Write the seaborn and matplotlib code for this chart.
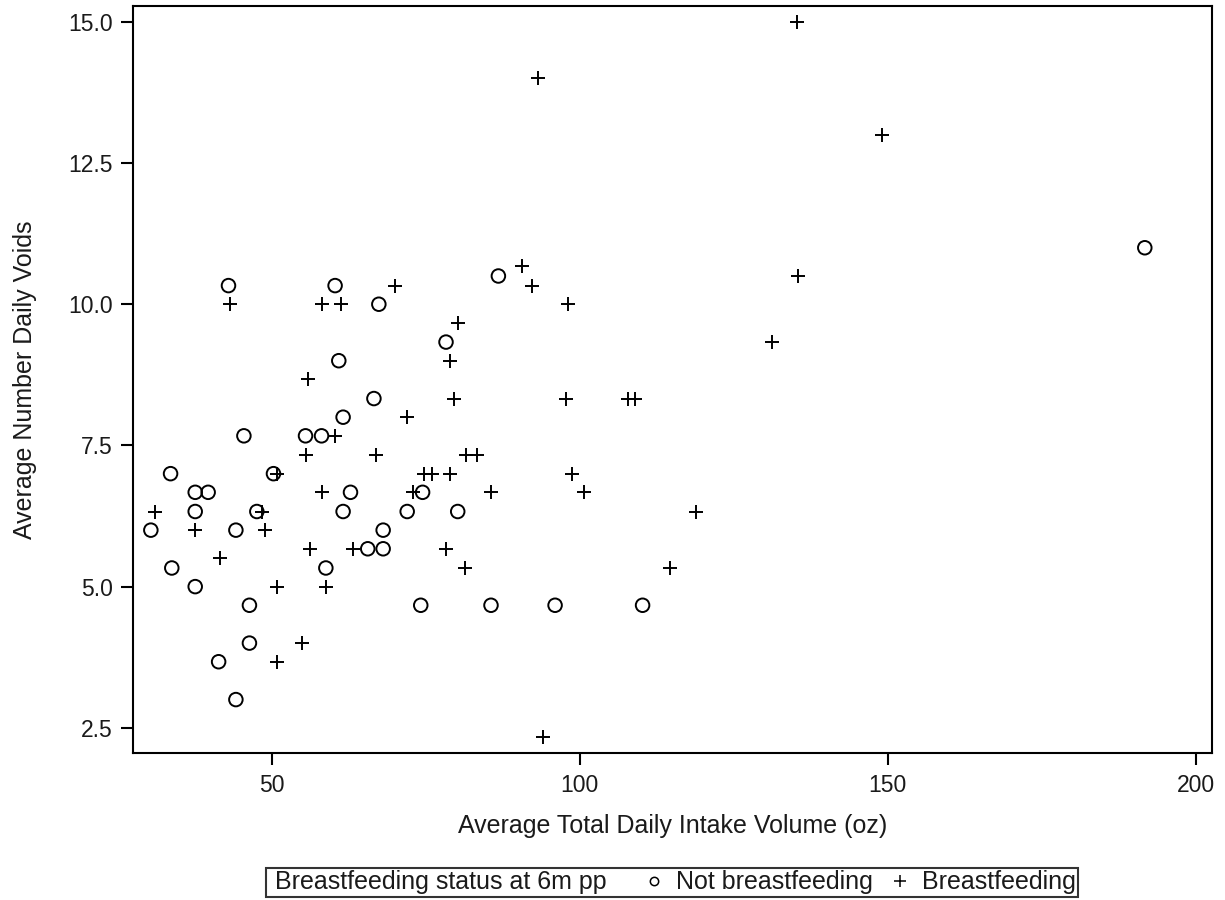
"""
plot.py
-------
Average daily voids vs average total daily intake volume,
split by breastfeeding status at 6 months postpartum.
"""

import pandas as pd
import matplotlib.pyplot as plt
import seaborn as sns
from matplotlib.lines import Line2D
from matplotlib.offsetbox import DrawingArea
from matplotlib.ticker import FormatStrFormatter

# ----------------- Data -----------------
not_bf_intake = [30.4, 33.6, 33.8, 37.6, 37.6, 37.6, 39.7, 43.0, 44.2, 45.5,
                 46.4, 46.4, 41.4, 44.2, 47.6, 50.3, 55.5, 58.1, 58.8, 60.3,
                 60.9, 61.6, 61.6, 62.8, 66.6, 67.4, 65.6, 68.1, 68.1, 72.0,
                 74.5, 74.2, 78.3, 80.2, 86.8, 85.6, 96.0, 110.2, 191.7]
not_bf_voids = [6.0, 7.0, 5.33, 6.67, 6.33, 5.0, 6.67, 10.33, 6.0, 7.67,
                4.67, 4.0, 3.67, 3.0, 6.33, 7.0, 7.67, 7.67, 5.33, 10.33,
                9.0, 8.0, 6.33, 6.67, 8.33, 10.0, 5.67, 6.0, 5.67, 6.33,
                6.67, 4.67, 9.33, 6.33, 10.5, 4.67, 4.67, 4.67, 11.0]

bf_intake = [31.0, 37.6, 41.6, 43.3, 48.5, 48.9, 50.9, 50.8, 50.8, 54.9,
             55.5, 55.9, 56.2, 58.1, 58.1, 58.8, 60.3, 61.2, 63.2, 67.0,
             70.1, 72.0, 72.9, 74.8, 76.1, 78.3, 78.9, 78.9, 79.6, 80.2,
             81.4, 81.5, 83.4, 85.6, 90.6, 92.2, 93.3, 94.0, 97.8, 98.1,
             98.7, 100.7, 107.9, 109.0, 114.6, 118.9, 131.2, 135.4, 135.2, 149.1]
bf_voids = [6.33, 6.0, 5.5, 10.0, 6.33, 6.0, 7.0, 5.0, 3.67, 4.0,
            7.33, 8.67, 5.67, 10.0, 6.67, 5.0, 7.67, 10.0, 5.67, 7.33,
            10.33, 8.0, 6.67, 7.0, 7.0, 5.67, 9.0, 7.0, 8.33, 9.67,
            5.33, 7.33, 7.33, 6.67, 10.67, 10.33, 14.0, 2.33, 8.33, 10.0,
            7.0, 6.67, 8.33, 8.33, 5.33, 6.33, 9.33, 10.5, 15.0, 13.0]

x_ticks = [50, 100, 150, 200]
y_ticks = [2.5, 5.0, 7.5, 10.0, 12.5, 15.0]

df = pd.concat([
    pd.DataFrame({"intake": not_bf_intake, "voids": not_bf_voids,
                  "status": "Not breastfeeding"}),
    pd.DataFrame({"intake": bf_intake, "voids": bf_voids,
                  "status": "Breastfeeding"}),
], ignore_index=True)

# ----------------- Plot -----------------
sns.set_style("ticks")
plt.rcParams["font.family"] = ["Liberation Sans", "DejaVu Sans"]
txt_col = "#1a1a1a"

fig = plt.figure(figsize=(12.25, 9), dpi=100)
ax = fig.add_axes([0.1083, 0.1637, 0.8808, 0.8296])

sns.scatterplot(data=df[df["status"] == "Not breastfeeding"], x="intake", y="voids",
                marker="o", s=95, facecolors="none", edgecolor="black",
                linewidth=1.4, color="black", legend=False, ax=ax)
sns.scatterplot(data=df[df["status"] == "Breastfeeding"], x="intake", y="voids",
                marker="+", s=105, color="black", linewidth=1.4,
                legend=False, ax=ax)

ax.set_xlim(27.45, 202.55)
ax.set_ylim(2.06, 15.28)
ax.set_xticks(x_ticks)
ax.set_yticks(y_ticks)
ax.yaxis.set_major_formatter(FormatStrFormatter("%.1f"))
ax.tick_params(axis="both", length=8.5, width=1.5, color="black",
               labelsize=16.5, labelcolor=txt_col)
ax.tick_params(axis="x", pad=7)
ax.tick_params(axis="y", pad=6)
for sp in ax.spines.values():
    sp.set_visible(True)
    sp.set_color("black")
    sp.set_linewidth(1.5)

ax.set_xlabel("Average Total Daily Intake Volume (oz)", fontsize=18, color=txt_col)
ax.set_ylabel("Average Number Daily Voids", fontsize=18, color=txt_col)
ax.xaxis.set_label_coords(0.5, -0.082)
ax.yaxis.set_label_coords(-0.0887, 0.5)

# ----------------- Legend -----------------
handles = [
    Line2D([], [], linestyle="none"),
    Line2D([], [], linestyle="none", marker="o", markersize=6,
           markerfacecolor="none", markeredgecolor="black", markeredgewidth=1.1),
    Line2D([], [], linestyle="none", marker="+", markersize=8,
           color="black", markeredgewidth=1.1),
]
labels = ["Breastfeeding status at 6m pp", "Not breastfeeding", "Breastfeeding"]
leg = fig.legend(handles, labels, loc="upper left", bbox_to_anchor=(0.2171, 0.0356),
                 ncol=3, frameon=True, fancybox=False, fontsize=18,
                 handlelength=0.3, handletextpad=0.72, columnspacing=0.93,
                 borderpad=0.1, borderaxespad=0)
leg.get_frame().set_edgecolor("black")
leg.get_frame().set_linewidth(1.5)
for t in leg.get_texts():
    t.set_color(txt_col)

# first entry is only a caption: no handle, small lead-in, wider gap after it
first_item = leg._legend_handle_box.get_children()[0].get_children()[0]
caption_box = first_item.get_children()[1]
first_item._children = [DrawingArea(4.7, 1), caption_box, DrawingArea(15, 1)]
first_item.sep = 0

fig.savefig("out.png", dpi=100)
plt.close(fig)
